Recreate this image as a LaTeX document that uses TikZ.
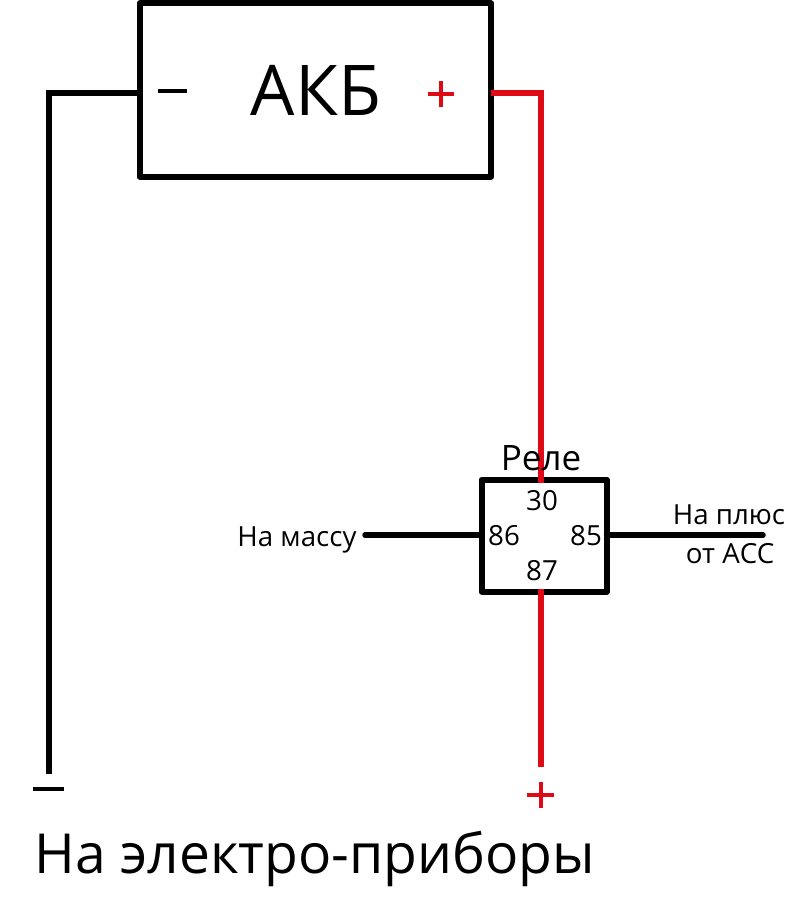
\documentclass[tikz,border=0pt]{standalone}
\usepackage{fontspec}
\setmainfont{Open Sans}
\tikzset{
 wire/.style={line width=5.5pt,line cap=butt,line join=miter},
 redwire/.style={wire,draw={rgb,255:red,222;green,10;blue,22}},
 boxs/.style={draw=black,line width=6pt,inner sep=0pt,outer sep=0pt,anchor=north west,line join=round},
 lab/.style={inner sep=0pt,anchor=center,text=black},
 small/.style={lab,font=\fontsize{27.7}{27.7}\selectfont}
}
\begin{document}
\begin{tikzpicture}[x=1pt,y=-1pt]
\useasboundingbox[fill=white] (0,0) rectangle (809,923);
\node[boxs,minimum width=351.5,minimum height=173] (akb) at (139.5,3.5) {};
\node[boxs,minimum width=125,minimum height=112] (rel) at (481.5,479.5) {};
\coordinate (corn) at (49,93);
\coordinate (gnd) at (49,774);
\coordinate (rc) at (541,93);
\coordinate (rend) at (541,767);
\coordinate (ml) at (365,535);
\coordinate (mr) at (763,535);
\draw[wire] (akb.west |- corn) -- (corn) -- (gnd);
\draw[redwire] (akb.east |- rc) -- (rc) -- ([yshift=-3pt]rel.north -| rc);
\draw[redwire] ([yshift=3pt]rel.south -| rend) -- (rend);
\draw[wire,line cap=round] (ml) -- (rel.west |- ml);
\draw[wire,line cap=round] (rel.east |- mr) -- (mr);
\draw[wire,line width=3.5pt] (158,91) coordinate (m1) -- (187,91) coordinate (m2);
\draw[redwire,line width=4.5pt] (428,94) coordinate (p1) -- (454,94) coordinate (p2);
\draw[redwire,line width=4.5pt] (441,81) coordinate (p3) -- (441,107) coordinate (p4);
\draw[wire,line width=4.5pt] (33,789) coordinate (g1) -- (64,789) coordinate (g2);
\draw[redwire,line width=4.5pt] (527,795) coordinate (q1) -- (554,795) coordinate (q2);
\draw[redwire,line width=4.5pt] (541,782) coordinate (q3) -- (541,808) coordinate (q4);
\node[lab,font=\fontsize{70}{70}\selectfont] (t1) at (316,90) {АКБ};
\node[lab,font=\fontsize{35}{35}\selectfont] (t2) at (541,458) {Реле};
\node[small] (t3) at (542,501) {30};
\node[small] (t4) at (504,536) {86};
\node[small] (t5) at (586,536) {85};
\node[small] (t6) at (542,571) {87};
\node[small] (t7) at (297,540) {На массу};
\node[small] (t8) at (729,515) {На плюс};
\node[small] (t9) at (730,554) {от АСС};
\node[lab,font=\fontsize{55.2}{55.2}\selectfont] (t10) at (315,859) {На электро-приборы};
\end{tikzpicture}
\end{document}
